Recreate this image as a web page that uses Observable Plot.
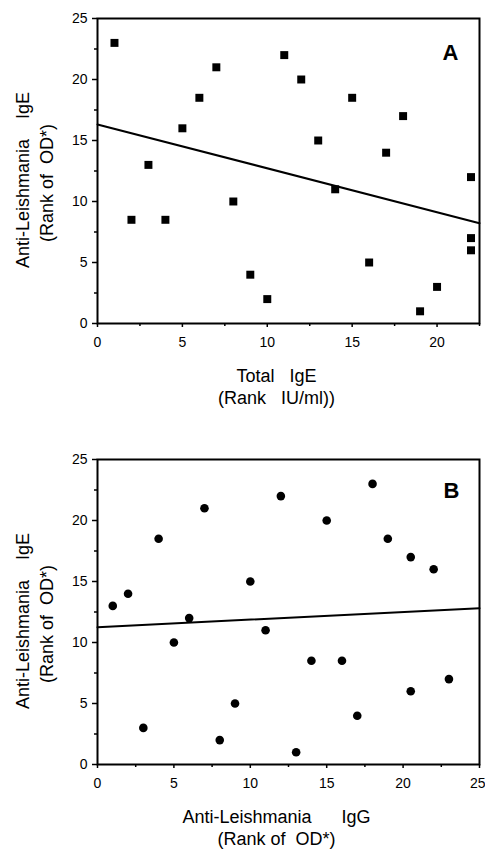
<!DOCTYPE html>
<html><head><meta charset="utf-8">
<script src="https://cdn.jsdelivr.net/npm/d3@7"></script>
<script src="https://cdn.jsdelivr.net/npm/@observablehq/plot@0.6"></script>
<style>
body{margin:0;background:#fff;}
#wrap{position:relative;width:485px;height:861px;background:#fff;}
#wrap svg{position:absolute;left:0;}
</style></head><body><div id="wrap"></div>
<script>
// Panel A data: Total IgE rank vs anti-Leishmania IgE rank
const totalIgERank = [1,2,3,4,5,6,7,8,9,10,11,12,13,14,15,16,17,18,19,20,22,22,22];
const antiIgERankA = [23,8.5,13,8.5,16,18.5,21,10,4,2,22,20,15,11,18.5,5,14,17,1,3,12,7,6];
// Panel B data: anti-Leishmania IgG rank vs anti-Leishmania IgE rank
const antiIgGRank = [1,2,3,4,5,6,7,8,9,10,11,12,13,14,15,16,17,18,19,20.5,20.5,22,23];
const antiIgERankB = [13,14,3,18.5,10,12,21,2,5,15,11,22,1,8.5,20,8.5,4,23,18.5,17,6,16,7];

const xDomainA = [0, 22.5];
const xDomainB = [0, 25];
const yDomain = [0, 25];
const majorTicksA = [0,5,10,15,20];
const minorTicksA = [2.5,7.5,12.5,17.5,22.5];
const majorTicksB = [0,5,10,15,20];
const edgeTickB = [25];
const minorTicksB = [2.5,7.5,12.5,17.5,22.5];
const yMajor = [0,5,10,15,20,25];
const yMinor = [2.5,7.5,12.5,17.5,22.5];

const FONT = "'Liberation Sans', Arial, Helvetica, sans-serif";
const NB = "\u00a0";

function panel(o) {
  const data = o.xs.map((x, i) => ({x, y: o.ys[i]}));
  const mx = d3.mean(o.xs), my = d3.mean(o.ys);
  const b = d3.sum(o.xs, (x, i) => (x - mx) * (o.ys[i] - my)) / d3.sum(o.xs, x => (x - mx) ** 2);
  const a = my - b * mx;
  const fit = o.xDomain.map(x => ({x, y: a + b * x}));
  const marks = [
    Plot.axisY({ticks: yMajor, tickSize: 5, tickPadding: 5, fontSize: 14, label: null, strokeWidth: 1.5}),
    Plot.axisY({ticks: yMinor, tickSize: 3, tickFormat: () => "", label: null, strokeWidth: 1.5}),
    Plot.axisX({ticks: o.major, tickSize: 4, tickPadding: 10, fontSize: 14, label: null, strokeWidth: 1.5}),
    Plot.axisX({ticks: o.minor, tickSize: 3, tickFormat: () => "", label: null, strokeWidth: 1.5}),
    Plot.frame({stroke: "black", strokeWidth: 2}),
    Plot.line(fit, {x: "x", y: "y", stroke: "black", strokeWidth: 2}),
    Plot.dot(data, {x: "x", y: "y", symbol: o.symbol, r: o.r, fill: "black", stroke: "none"}),
    Plot.text([o.letter], {text: d => d, frameAnchor: "top-right", dx: o.letterDx, dy: o.letterDy,
      fontSize: 22, fontWeight: "bold", textAnchor: "middle", lineAnchor: "middle"}),
    Plot.text([o.yTitle1], {text: d => d, frameAnchor: "left", rotate: -90, dx: -74, dy: 9,
      fontSize: 18, textAnchor: "middle", lineAnchor: "middle"}),
    Plot.text([o.yTitle2], {text: d => d, frameAnchor: "left", rotate: -90, dx: -50, dy: 12,
      fontSize: 18, textAnchor: "middle", lineAnchor: "middle"}),
    Plot.text([o.xTitle1], {text: d => d, frameAnchor: "bottom", dx: -12, dy: 53,
      fontSize: 18, textAnchor: "middle", lineAnchor: "middle"}),
    Plot.text([o.xTitle2], {text: d => d, frameAnchor: "bottom", dx: -12, dy: 75,
      fontSize: 18, textAnchor: "middle", lineAnchor: "middle"})
  ];
  if (o.edge) {
    marks.push(Plot.axisX({ticks: o.edge, tickSize: 4, tickFormat: () => "", label: null, strokeWidth: 1.5}));
    marks.push(Plot.text(o.edge, {x: d => d, text: d => String(d), frameAnchor: "bottom", dy: 19, dx: 6,
      fontSize: 14, textAnchor: "end", lineAnchor: "middle"}));
  }
  return Plot.plot({
    width: 485, height: o.height,
    marginTop: o.marginTop, marginBottom: 97, marginLeft: 97, marginRight: 6,
    x: {domain: o.xDomain}, y: {domain: yDomain},
    style: {fontFamily: FONT, color: "black", background: "white", overflow: "visible"},
    marks
  });
}

const wrap = document.getElementById("wrap");
const A = panel({
  xs: totalIgERank, ys: antiIgERankA, xDomain: xDomainA, major: majorTicksA, minor: minorTicksA,
  symbol: "square", r: 4.5, letter: "A", letterDx: -29, letterDy: 34,
  height: 420, marginTop: 18,
  yTitle1: "Anti-Leishmania" + NB.repeat(4) + "IgE", yTitle2: "(Rank of" + NB + " OD*)",
  xTitle1: "Total" + NB.repeat(3) + "IgE", xTitle2: "(Rank" + NB.repeat(3) + "IU/ml))"
});
A.style.top = "0px";
wrap.appendChild(A);
const B = panel({
  xs: antiIgGRank, ys: antiIgERankB, xDomain: xDomainB, major: majorTicksB, minor: minorTicksB, edge: edgeTickB,
  symbol: "circle", r: 4.3, letter: "B", letterDx: -28, letterDy: 31,
  height: 441, marginTop: 39,
  yTitle1: "Anti-Leishmania" + NB.repeat(4) + "IgE", yTitle2: "(Rank of" + NB + " OD*)",
  xTitle1: "Anti-Leishmania" + NB.repeat(6) + "IgG", xTitle2: "(Rank of" + NB + " OD*)"
});
B.style.top = "420px";
wrap.appendChild(B);
</script></body></html>
